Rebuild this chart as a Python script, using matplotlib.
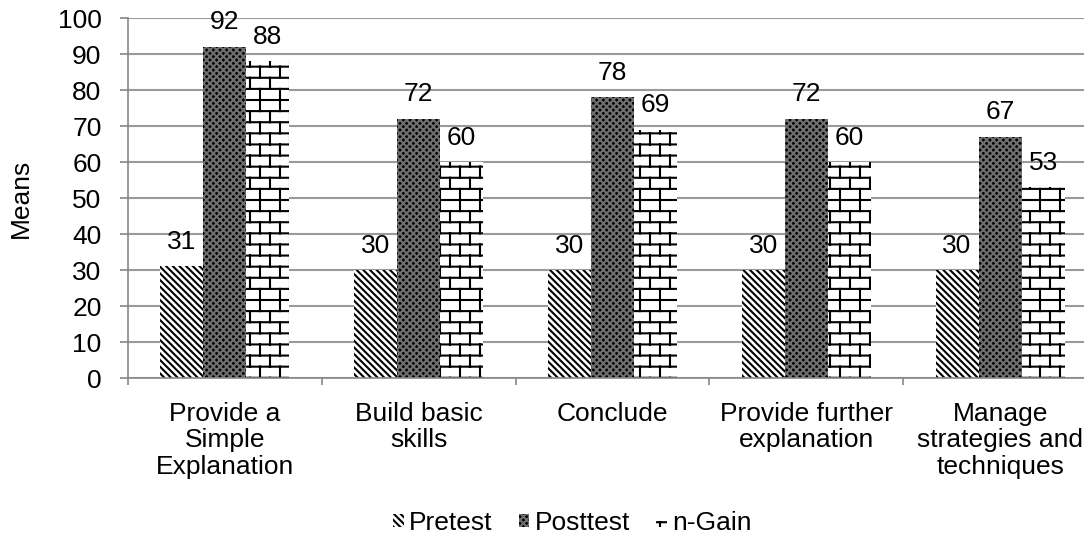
import matplotlib
matplotlib.use('Agg')

import matplotlib.pyplot as plt
import matplotlib.hatch as mhatch
import numpy as np
from matplotlib.path import Path

categories = ["Provide a\nSimple\nExplanation", "Build basic\nskills", "Conclude",
              "Provide further\nexplanation", "Manage\nstrategies and\ntechniques"]
pretest = [31, 30, 30, 30, 30]
posttest = [92, 72, 78, 72, 67]
n_gain = [88, 60, 69, 60, 53]
series_names = ["Pretest", "Posttest", "n-Gain"]

FS = 19


class BrickHatch(mhatch.HatchPatternBase):
    """Brick wall pattern, used in place of the large circle hatch 'O'."""

    def __init__(self, hatch, density):
        count = hatch.count('O')
        self.rows = int(1.5 * density * count)
        self.cols = 5 * count
        if count:
            self.num_vertices = 2 * ((self.rows + 1) + self.rows * (self.cols + 1))
        else:
            self.num_vertices = 0

    def set_vertices_and_codes(self, vertices, codes):
        segs = []
        for i in range(self.rows + 1):
            y = i / self.rows
            segs.append(((0.0, y), (1.0, y)))
        for i in range(self.rows):
            y0, y1 = i / self.rows, (i + 1) / self.rows
            shift = 0.5 * (i % 2)
            for j in range(self.cols + 1):
                x = min((j + shift) / self.cols, 1.0)
                segs.append(((x, y0), (x, y1)))
        vertices[:] = np.array(segs).reshape(-1, 2)
        codes[0::2] = Path.MOVETO
        codes[1::2] = Path.LINETO


mhatch._hatch_types = [BrickHatch if h is mhatch.LargeCircles else h
                       for h in mhatch._hatch_types]

plt.rcParams['font.family'] = ['Liberation Sans', 'DejaVu Sans']
plt.rcParams['hatch.linewidth'] = 1.5

fig = plt.figure(figsize=(10.84, 5.39), dpi=100)
ax = fig.add_axes([0.118, 0.2987, 0.894, 0.6679])

x = np.arange(len(categories))
width = 0.222
styles = [
    dict(facecolor='white', edgecolor='black', hatch='\\' * 5),
    dict(facecolor='black', edgecolor='#707070', hatch='xxxxx'),
    dict(facecolor='white', edgecolor='black', hatch='O'),
]

for k, (vals, name, st) in enumerate(zip([pretest, posttest, n_gain], series_names, styles)):
    bars = ax.bar(x + (k - 1) * width, vals, width, label=name, linewidth=0, zorder=2, **st)
    for b, v in zip(bars, vals):
        ax.annotate(str(v), (b.get_x() + b.get_width() / 2, v), xytext=(0, 9),
                    textcoords='offset points', ha='center', va='bottom', fontsize=FS)

ax.set_xlim(-0.5, len(categories) - 0.5)
ax.set_ylim(0, 100)
ax.set_yticks(range(0, 101, 10))
ax.set_xticks(x)
ax.set_xticklabels(categories, fontsize=FS, linespacing=1.13)
ax.set_xticks(np.arange(-0.5, len(categories), 1), minor=True)
ax.tick_params(axis='x', which='major', length=0, pad=17)
ax.tick_params(axis='x', which='minor', length=5, color='#888888', width=1.2)
ax.tick_params(axis='y', length=6, color='#888888', width=1.2, pad=13, labelsize=FS)

ax.yaxis.grid(True, color='#9a9a9a', linewidth=1.5, zorder=0)
ax.set_axisbelow(True)
for side in ['top', 'right']:
    ax.spines[side].set_visible(False)
for side in ['left', 'bottom']:
    ax.spines[side].set_color('#888888')
    ax.spines[side].set_linewidth(1.2)

ax.set_ylabel("Means", fontsize=FS)
ax.yaxis.set_label_coords(-0.098, 0.5)

fig.legend(loc='center', bbox_to_anchor=(0.528, 0.03), ncol=3, frameon=False,
           fontsize=FS, handlelength=0.4, handleheight=0.4, handletextpad=0.2,
           columnspacing=1.0)

fig.savefig("out.png", dpi=100)
plt.close(fig)
